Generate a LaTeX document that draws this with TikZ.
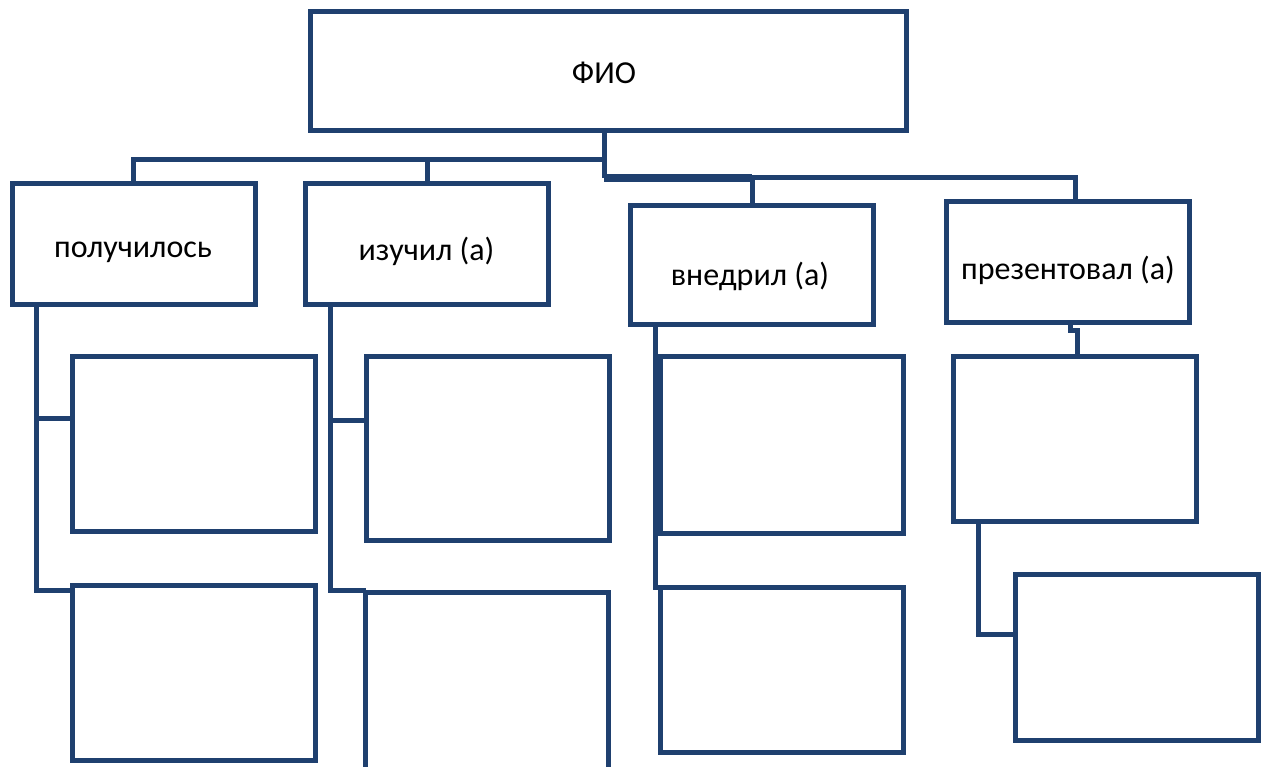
\documentclass[tikz,border=0pt]{standalone}
\usepackage{fontspec}
\setmainfont{Carlito}
\usepackage{xcolor}
\definecolor{boxblue}{RGB}{31,64,111}
\usetikzlibrary{positioning}

\tikzset{
    card/.style={draw=boxblue, line width=5pt, fill=white, rectangle, inner sep=0pt, outer sep=0pt,
        minimum width=243pt},
    link/.style={draw=boxblue, line width=5pt},
    label text/.style={font=\fontsize{32}{38}\selectfont}
}

\begin{document}
\begin{tikzpicture}[x=1pt,y=-1pt]
    \useasboundingbox (0,0) rectangle (1267,767);
    \clip (0,0) rectangle (1267,767);

    \coordinate (J1) at (604, 160);
    \coordinate (J2) at (604, 178);
    \coordinate (J3) at (1075, 178);
    \coordinate (G1) at (36, 418);
    \coordinate (G2) at (36, 590);
    \coordinate (L1) at (330, 420);
    \coordinate (L2) at (330, 590);
    \coordinate (I1) at (655, 418);
    \coordinate (I2) at (655, 587);
    \coordinate (P0) at (1070, 331);
    \coordinate (P1) at (978, 634);

    % top row
    \node[card, minimum width=596pt, minimum height=119pt] (fio) at (608, 71.5) {};
    \node[card, minimum height=121pt] (got) at (133.5, 244.5) {};
    \node[card, minimum height=121pt] (learn) at (427, 244.5) {};
    \node[card, minimum height=119pt] (impl) at (752, 265.5) {};
    \node[card, minimum height=121pt] (pres) at (1068, 262.5) {};

    % empty boxes
    \node[card, minimum height=174pt] (got1) at (193.5, 444) {};
    \node[card, minimum height=175pt] (got2) at (193.5, 672.5) {};
    \node[card, minimum height=183pt] (learn1) at (487.5, 448.5) {};
    \node[card, minimum height=210pt] (learn2) at (487, 697) {};
    \node[card, minimum height=176pt] (impl1) at (781.5, 445) {};
    \node[card, minimum height=165pt] (impl2) at (781.5, 669.5) {};
    \node[card, minimum height=164pt] (pres1) at (1075, 439) {};
    \node[card, minimum height=166pt] (pres2) at (1137, 657) {};

    % tree
    \draw[link] (fio.south -| J1) -- (J2);
    \draw[link] (got.north) |- (J1);
    \draw[link] (learn.north) -- (learn.north |- J1);
    \draw[link] (impl.north) |- (J2);
    \draw[link] (pres.north -| J3) -- (J3) -- (J2);
    \draw[boxblue, line width=8pt] (J2) -- (J2 -| impl.north);

    \draw[link] (got.south -| G1) -- (G2) -- (G2 -| got2.west);
    \draw[link] (G1) -- (G1 -| got1.west);
    \draw[link] (learn.south -| L1) -- (L2) -- (L2 -| learn2.west);
    \draw[link] (L1) -- (L1 -| learn1.west);
    \draw[link] (impl.south -| I1) -- (I2) -- (I2 -| impl2.west);
    \draw[link] (I1) -- (I1 -| impl1.west);
    \draw[link] (pres.south -| P0) -- (P0) -- ([xshift=7pt]P0) -- ([xshift=7pt]P0 |- pres1.north);
    \draw[link] (pres1.south -| P1) -- (P1) -- (P1 -| pres2.west);

%labels
    \node[label text] (fiotext) at (604, 73) {ФИО};
    \node[label text] (gottext) at (133, 252) {получилось};
    \node[label text] (learntext) at (426.5, 251) {изучил (а)};
    \node[label text] (impltext) at (750, 276) {внедрил (а)};
    \node[label text] (prestext) at (1068, 270) {презентовал (а)};

\end{tikzpicture}
\end{document}
